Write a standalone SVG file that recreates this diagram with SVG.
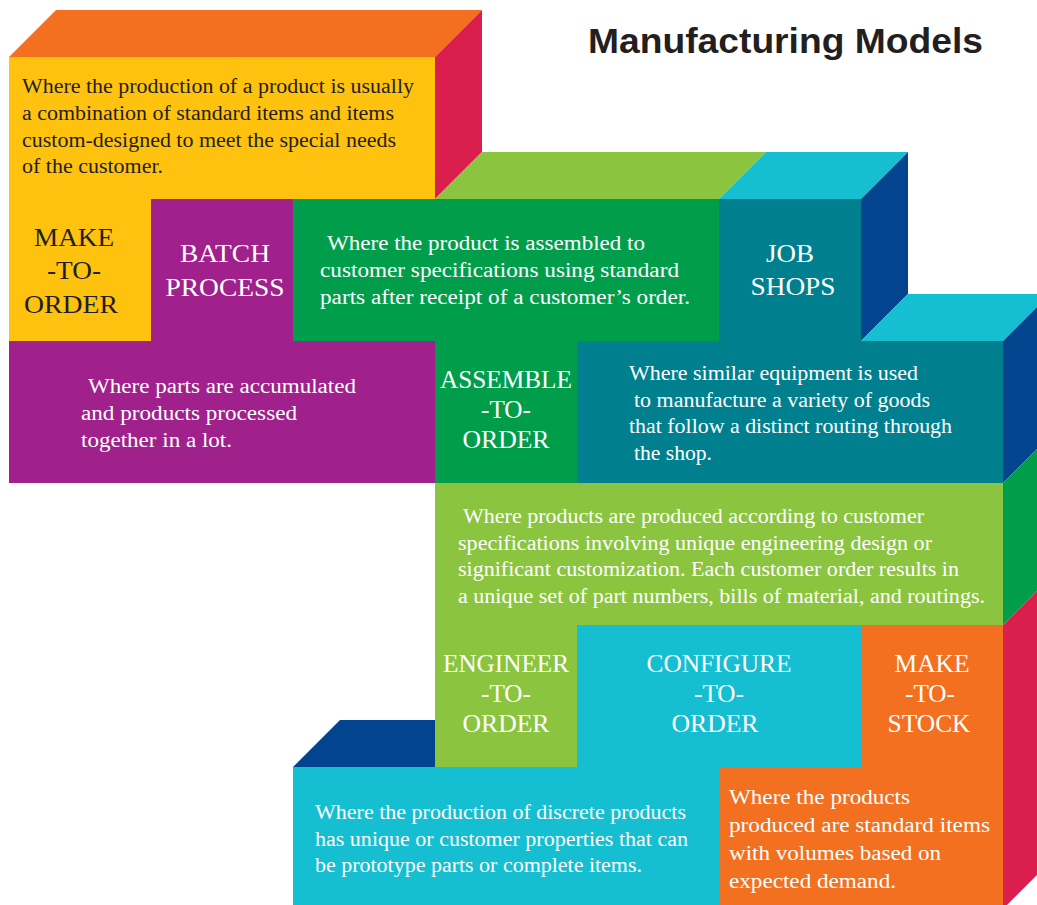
<svg xmlns="http://www.w3.org/2000/svg" width="1037" height="905" viewBox="0 0 1037 905">
<style>
.desc{font-family:"Liberation Serif","Times New Roman",serif;font-size:20px;fill:#ffffff}
.lbl{font-family:"Liberation Serif","Times New Roman",serif;font-size:26px;fill:#ffffff;text-anchor:middle}
text.dark{fill:#231F20}
.title{font-family:"Liberation Sans",Arial,sans-serif;font-weight:bold;font-size:35px;fill:#231F20}
.orange{fill:#F37021}.crimson{fill:#DA1F4F}.yellow{fill:#FFC20F}.purple{fill:#A0218B}
.green{fill:#009E4B}.lgreen{fill:#8BC540}.cyan{fill:#15BED1}.teal{fill:#00808F}.dblue{fill:#03448F}
</style>
<rect width="1037" height="905" fill="#ffffff"/>
<text class="title" x="588" y="53" textLength="395" lengthAdjust="spacingAndGlyphs">Manufacturing Models</text>

<g id="faces">
<polygon class="orange" points="9,57 56,10 482,10 435,57"/>
<polygon class="crimson" points="435,57 482,10 482,152 435,199"/>
<polygon class="lgreen" points="435,199 482,152 766,152 719,199"/>
<polygon class="cyan" points="719,199 766,152 908,152 861,199"/>
<polygon class="dblue" points="861,199 908,152 908,294 861,341"/>
<polygon class="cyan" points="861,341 908,294 1050,294 1003,341"/>
<polygon class="dblue" points="1003,341 1050,294 1050,436 1003,483"/>
<polygon class="green" points="1003,483 1050,436 1050,578 1003,625"/>
<polygon class="crimson" points="1003,625 1050,578 1050,862 1003,909"/>
<polygon class="dblue" points="293,767 340,720 436,720 436,767"/>
</g>

<g id="make-to-order-desc">
<rect class="yellow" x="9" y="57" width="426" height="142"/>
<text class="desc dark" x="22" y="93" textLength="392" lengthAdjust="spacingAndGlyphs">Where the production of a product is usually</text>
<text class="desc dark" x="22" y="120" textLength="372" lengthAdjust="spacingAndGlyphs">a combination of standard items and items</text>
<text class="desc dark" x="22" y="147" textLength="374" lengthAdjust="spacingAndGlyphs">custom-designed to meet the special needs</text>
<text class="desc dark" x="22" y="173" textLength="141" lengthAdjust="spacingAndGlyphs">of the customer.</text>
</g>

<g id="make-to-order">
<rect class="yellow" x="9" y="199" width="142" height="142"/>
<text class="lbl dark" x="74" y="246" textLength="80" lengthAdjust="spacingAndGlyphs">MAKE</text>
<text class="lbl dark" x="74" y="279" textLength="54" lengthAdjust="spacingAndGlyphs">-TO-</text>
<text class="lbl dark" x="71" y="313" textLength="94" lengthAdjust="spacingAndGlyphs">ORDER</text>
</g>

<g id="batch-process">
<rect class="purple" x="151" y="199" width="142" height="142"/>
<text class="lbl" x="225" y="262" textLength="90" lengthAdjust="spacingAndGlyphs">BATCH</text>
<text class="lbl" x="225" y="296" textLength="119" lengthAdjust="spacingAndGlyphs">PROCESS</text>
</g>

<g id="assemble-to-order-desc">
<rect class="green" x="293" y="199" width="426" height="142"/>
<text class="desc" x="327" y="250" textLength="318" lengthAdjust="spacingAndGlyphs">Where the product is assembled to</text>
<text class="desc" x="320" y="277" textLength="359" lengthAdjust="spacingAndGlyphs">customer specifications using standard</text>
<text class="desc" x="320" y="304" textLength="370" lengthAdjust="spacingAndGlyphs">parts after receipt of a customer’s order.</text>
</g>

<g id="job-shops">
<rect class="teal" x="719" y="199" width="142" height="142"/>
<text class="lbl" x="790" y="262" textLength="48" lengthAdjust="spacingAndGlyphs">JOB</text>
<text class="lbl" x="793" y="295" textLength="85" lengthAdjust="spacingAndGlyphs">SHOPS</text>
</g>

<g id="batch-process-desc">
<rect class="purple" x="9" y="341" width="426" height="142"/>
<text class="desc" x="88" y="393" textLength="268" lengthAdjust="spacingAndGlyphs">Where parts are accumulated</text>
<text class="desc" x="81" y="420" textLength="216" lengthAdjust="spacingAndGlyphs">and products processed</text>
<text class="desc" x="81" y="447" textLength="151" lengthAdjust="spacingAndGlyphs">together in a lot.</text>
</g>

<g id="assemble-to-order">
<rect class="green" x="435" y="341" width="142" height="142"/>
<text class="lbl" x="506" y="388" textLength="132" lengthAdjust="spacingAndGlyphs">ASSEMBLE</text>
<text class="lbl" x="506" y="418" textLength="50" lengthAdjust="spacingAndGlyphs">-TO-</text>
<text class="lbl" x="506" y="448" textLength="87" lengthAdjust="spacingAndGlyphs">ORDER</text>
</g>

<g id="job-shops-desc">
<rect class="teal" x="577" y="341" width="426" height="142"/>
<text class="desc" x="629" y="380" textLength="289" lengthAdjust="spacingAndGlyphs">Where similar equipment is used</text>
<text class="desc" x="634" y="407" textLength="296" lengthAdjust="spacingAndGlyphs">to manufacture a variety of goods</text>
<text class="desc" x="629" y="433" textLength="323" lengthAdjust="spacingAndGlyphs">that follow a distinct routing through</text>
<text class="desc" x="634" y="460" textLength="78" lengthAdjust="spacingAndGlyphs">the shop.</text>
</g>

<g id="engineer-to-order-desc">
<rect class="lgreen" x="435" y="483" width="568" height="142"/>
<text class="desc" x="463" y="523" textLength="461" lengthAdjust="spacingAndGlyphs">Where products are produced according to customer</text>
<text class="desc" x="458" y="550" textLength="474" lengthAdjust="spacingAndGlyphs">specifications involving unique engineering design or</text>
<text class="desc" x="458" y="576" textLength="501" lengthAdjust="spacingAndGlyphs">significant customization. Each customer order results in</text>
<text class="desc" x="458" y="603" textLength="527" lengthAdjust="spacingAndGlyphs">a unique set of part numbers, bills of material, and routings.</text>
</g>

<g id="engineer-to-order">
<rect class="lgreen" x="435" y="625" width="142" height="142"/>
<text class="lbl" x="506" y="672" textLength="126" lengthAdjust="spacingAndGlyphs">ENGINEER</text>
<text class="lbl" x="506" y="702" textLength="50" lengthAdjust="spacingAndGlyphs">-TO-</text>
<text class="lbl" x="506" y="732" textLength="87" lengthAdjust="spacingAndGlyphs">ORDER</text>
</g>

<g id="configure-to-order">
<rect class="cyan" x="577" y="625" width="284" height="142"/>
<text class="lbl" x="719" y="672" textLength="145" lengthAdjust="spacingAndGlyphs">CONFIGURE</text>
<text class="lbl" x="719" y="702" textLength="50" lengthAdjust="spacingAndGlyphs">-TO-</text>
<text class="lbl" x="715" y="732" textLength="87" lengthAdjust="spacingAndGlyphs">ORDER</text>
</g>

<g id="make-to-stock">
<rect class="orange" x="861" y="625" width="142" height="284"/>
<text class="lbl" x="932" y="672" textLength="75" lengthAdjust="spacingAndGlyphs">MAKE</text>
<text class="lbl" x="930" y="702" textLength="50" lengthAdjust="spacingAndGlyphs">-TO-</text>
<text class="lbl" x="929" y="732" textLength="83" lengthAdjust="spacingAndGlyphs">STOCK</text>
</g>

<g id="configure-to-order-desc">
<rect class="cyan" x="293" y="767" width="426" height="142"/>
<text class="desc" x="315" y="819" textLength="371" lengthAdjust="spacingAndGlyphs">Where the production of discrete products</text>
<text class="desc" x="315" y="846" textLength="373" lengthAdjust="spacingAndGlyphs">has unique or customer properties that can</text>
<text class="desc" x="315" y="872" textLength="327" lengthAdjust="spacingAndGlyphs">be prototype parts or complete items.</text>
</g>

<g id="make-to-stock-desc">
<rect class="orange" x="719" y="767" width="142" height="142"/>
<text class="desc" x="729" y="804" textLength="181" lengthAdjust="spacingAndGlyphs">Where the products</text>
<text class="desc" x="729" y="832" textLength="261" lengthAdjust="spacingAndGlyphs">produced are standard items</text>
<text class="desc" x="729" y="860" textLength="212" lengthAdjust="spacingAndGlyphs">with volumes based on</text>
<text class="desc" x="729" y="888" textLength="167" lengthAdjust="spacingAndGlyphs">expected demand.</text>
</g>
</svg>
